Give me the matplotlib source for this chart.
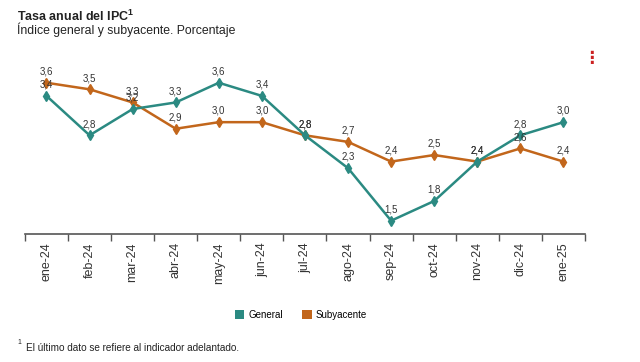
import matplotlib.pyplot as plt
from matplotlib.patches import Patch

plt.rcParams["font.family"] = ["Liberation Sans", "DejaVu Sans"]
plt.rcParams["mathtext.fontset"] = "custom"
plt.rcParams["mathtext.rm"] = "Liberation Sans"
plt.rcParams["mathtext.bf"] = "Liberation Sans:bold"

months = ["ene-24", "feb-24", "mar-24", "abr-24", "may-24", "jun-24", "jul-24",
          "ago-24", "sep-24", "oct-24", "nov-24", "dic-24", "ene-25"]
general = [3.4, 2.8, 3.2, 3.3, 3.6, 3.4, 2.8, 2.3, 1.5, 1.8, 2.4, 2.8, 3.0]
subyacente = [3.6, 3.5, 3.3, 2.9, 3.0, 3.0, 2.8, 2.7, 2.4, 2.5, 2.4, 2.6, 2.4]

c_gen = "#2b8a82"
c_sub = "#c2661b"

fig = plt.figure(figsize=(6.4, 3.62), dpi=100)
ax = fig.add_axes([0.039, 0.354, 0.875, 0.49])

x = list(range(len(months)))
ax.plot(x, subyacente, color=c_sub, lw=1.8, marker="d", ms=5.5, zorder=2)
ax.plot(x, general, color=c_gen, lw=1.8, marker="d", ms=5.5, zorder=3)

for series in (general, subyacente):
    for xi, v in zip(x, series):
        ax.annotate(f"{v:.1f}".replace(".", ","), (xi, v), xytext=(0, 4.5),
                    textcoords="offset points", ha="center", va="bottom",
                    fontsize=7, color="#333333", zorder=4)

ax.set_xlim(-0.5, len(months) - 0.5)
ax.set_ylim(1.3, 4.0)
ax.set_yticks([])
ax.set_xticks(x)
ax.set_xticklabels(months, rotation=90, fontsize=9, color="#333333")
ax.set_xticks([i - 0.5 for i in range(len(months) + 1)], minor=True)
ax.tick_params(axis="x", which="major", length=0, pad=6)
ax.tick_params(axis="x", which="minor", length=5, width=1, color="#555555")
for s in ["top", "right", "left"]:
    ax.spines[s].set_visible(False)
ax.spines["bottom"].set_color("#555555")
ax.spines["bottom"].set_linewidth(1.2)

fig.text(0.027, 0.955, "Tasa anual del IPC$^{\\mathbf{1}}$", fontsize=9,
         fontweight="bold", color="#222222", va="center")
fig.text(0.027, 0.917, "Índice general y subyacente. Porcentaje", fontsize=8.8,
         color="#222222", va="center")
fig.text(0.924, 0.84, "⋮", fontsize=12, color="#cc2222", fontweight="bold",
         ha="center", va="center", family="DejaVu Sans")

handles = [Patch(facecolor=c_gen, label="General"),
           Patch(facecolor=c_sub, label="Subyacente")]
fig.legend(handles=handles, loc="center", bbox_to_anchor=(0.47, 0.13),
           ncol=2, frameon=False, fontsize=7, handlelength=1.0,
           handleheight=1.0, columnspacing=2.0, handletextpad=0.4)

fig.text(0.027, 0.049, "$^{1}$", fontsize=7, color="#222222", va="center")
fig.text(0.04, 0.04, "El último dato se refiere al indicador adelantado.",
         fontsize=7.2, color="#222222", va="center")

fig.savefig("out.png", dpi=100)
